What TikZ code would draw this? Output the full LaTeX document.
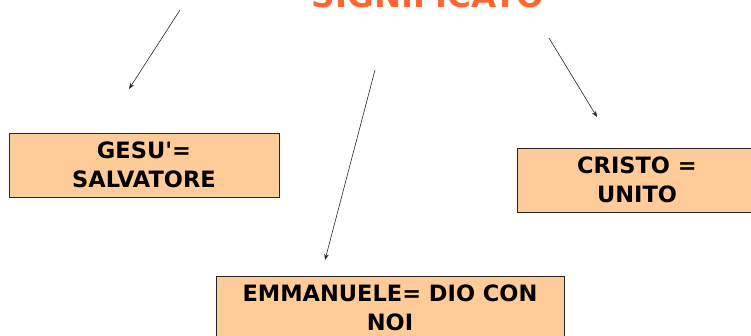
\documentclass[tikz,border=0pt]{standalone}
\usepackage{fontspec}
\setmainfont{DejaVu Sans}
\usetikzlibrary{arrows.meta}
\definecolor{peach}{HTML}{FFCC99}
\definecolor{titleorange}{HTML}{FF6633}
\tikzset{
  box/.style={draw=black!85, line width=0.9pt, fill=peach, rectangle,
    minimum height=64pt, inner sep=0pt, align=center,
    font=\bfseries\fontsize{22.5}{29.5}\selectfont},
  conn/.style={draw=black!85, line width=0.6pt, -{Stealth[length=6pt,width=4.5pt]}}
}
\begin{document}
\begin{tikzpicture}[x=1pt,y=-1pt]
\useasboundingbox (0,0) rectangle (751,335);
\clip (0,0) rectangle (751,335);
\node[anchor=base, text=titleorange, font=\bfseries\fontsize{32.5}{36}\selectfont, inner sep=0pt] (title) at (428,7) {SIGNIFICATO};
\node[box, minimum width=270pt] (gesu) at (144,165) {GESU\textquotesingle=\\SALVATORE};
\node[box, minimum width=240pt] (cristo) at (637,180) {CRISTO =\\UNITO};
\node[box, minimum width=348pt] (emm) at (390,308) {EMMANUELE= DIO CON\\NOI};
\coordinate (a1s) at (180,10);
\coordinate (a1e) at (129,89);
\coordinate (a2s) at (375,70);
\coordinate (a2e) at (325,260);
\coordinate (a3s) at (549,38);
\coordinate (a3e) at (597,117);
\draw[conn] (a1s) -- (a1e);
\draw[conn] (a2s) -- (a2e);
\draw[conn] (a3s) -- (a3e);
\end{tikzpicture}
\end{document}
